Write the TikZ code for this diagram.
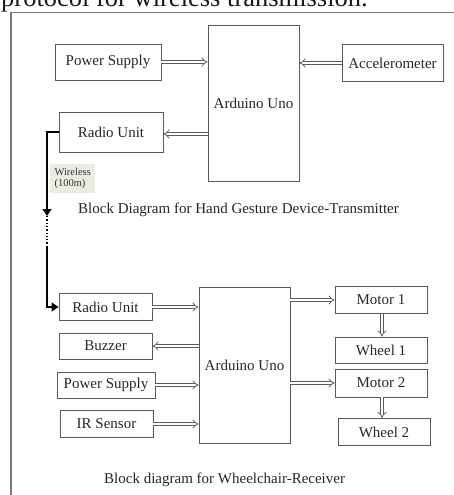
\documentclass[tikz,border=0pt]{standalone}
\usepackage{fontspec}
\setmainfont{Liberation Serif}
\usetikzlibrary{arrows.meta}
\definecolor{boxline}{RGB}{90,90,90}
\definecolor{frameline}{RGB}{120,120,120}
\definecolor{labelbg}{RGB}{236,235,226}
\tikzset{
  blk/.style={draw=boxline, line width=0.8pt, rectangle, inner sep=0pt,
              font=\fontsize{15}{17}\selectfont, text=black!85},
  dbl/.style={draw=boxline, line width=0.75pt, double=white, double distance=2.4pt,
              -{Implies}},
  wire/.style={line width=1.3pt, draw=black},
  captext/.style={font=\fontsize{15}{17}\selectfont, anchor=base west, inner sep=0pt, text=black!85}
}
\begin{document}
\begin{tikzpicture}[x=1pt,y=-1pt]
\useasboundingbox (0,0) rectangle (454,495);
\begin{scope}
\clip (0,0) rectangle (454,495);
\node[anchor=base west, inner sep=0pt, font=\fontsize{26.5}{30}\selectfont, text=black!90] (toptext) at (1,6.5) {protocol for wireless transmission.};
\draw[frameline, line width=1.2pt] (11,500) -- (11,12.3) -- (460,12.3);
\end{scope}

% Transmitter
\node[blk, minimum width=106pt, minimum height=36pt] (ps1) at (108,62) {Power Supply};
\node[blk, minimum width=91pt, minimum height=156pt] (ard1) at (253.5,103) {Arduino Uno};
\node[blk, minimum width=101pt, minimum height=37pt] (acc) at (392.5,63) {Accelerometer};
\node[blk, minimum width=104pt, minimum height=40pt] (radio1) at (111,132) {Radio Unit};

\draw[dbl] (ps1.east) -- (ps1.east -| ard1.west);
\draw[dbl] (acc.west) -- (acc.west -| ard1.east);
\draw[dbl] ([yshift=-2pt]radio1.east -| ard1.west) -- ([yshift=-2pt]radio1.east);

% Wireless link
\coordinate (w1) at (47,216);
\coordinate (w2) at (47,247);
\node[fill=labelbg, align=left, anchor=north west, inner sep=2.5pt,
      font=\fontsize{10.5}{11.5}\selectfont, text=black!80,
      minimum width=45pt, minimum height=29pt] (wlabel) at (50,164) {Wireless\\(100m)};
\node[captext] (cap1) at (78,213) {Block Diagram for Hand Gesture Device-Transmitter};

% Receiver
\node[blk, minimum width=93pt, minimum height=27pt] (radio2) at (105.5,307) {Radio Unit};
\node[blk, minimum width=93pt, minimum height=26pt] (buzz) at (105.5,346) {Buzzer};
\node[blk, minimum width=98pt, minimum height=26pt] (ps2) at (106,385) {Power Supply};
\node[blk, minimum width=93pt, minimum height=27pt] (ir) at (106.5,424) {IR Sensor};
\node[blk, minimum width=91pt, minimum height=156pt] (ard2) at (244.5,365) {Arduino Uno};
\node[blk, minimum width=92pt, minimum height=27pt] (m1) at (381,300) {Motor 1};
\node[blk, minimum width=92pt, minimum height=26pt] (wh1) at (381,350) {Wheel 1};
\node[blk, minimum width=92pt, minimum height=28pt] (m2) at (381,383) {Motor 2};
\node[blk, minimum width=92pt, minimum height=27pt] (wh2) at (384,432) {Wheel 2};

\draw[wire, -{Triangle[length=7pt,width=9pt]}] (radio1.west) -| (w1);
\draw[wire, dotted] (w1) -- (w2);
\draw[wire, -{Triangle[length=7pt,width=9pt]}] (w2) |- (radio2.west);

\draw[dbl] (radio2.east) -- (radio2.east -| ard2.west);
\draw[dbl] (buzz.east -| ard2.west) -- (buzz.east);
\draw[dbl] (ps2.east) -- (ps2.east -| ard2.west);
\draw[dbl] (ir.east) -- (ir.east -| ard2.west);
\draw[dbl] (m1.west -| ard2.east) -- (m1.west);
\draw[dbl] (m2.west -| ard2.east) -- (m2.west);
\draw[dbl] (m1.south -| 382,0) -- (wh1.north -| 382,0);
\draw[dbl] (m2.south -| 382,0) -- (wh2.north -| 382,0);

\node[captext] (cap2) at (104,483) {Block diagram for Wheelchair-Receiver};
\end{tikzpicture}
\end{document}
